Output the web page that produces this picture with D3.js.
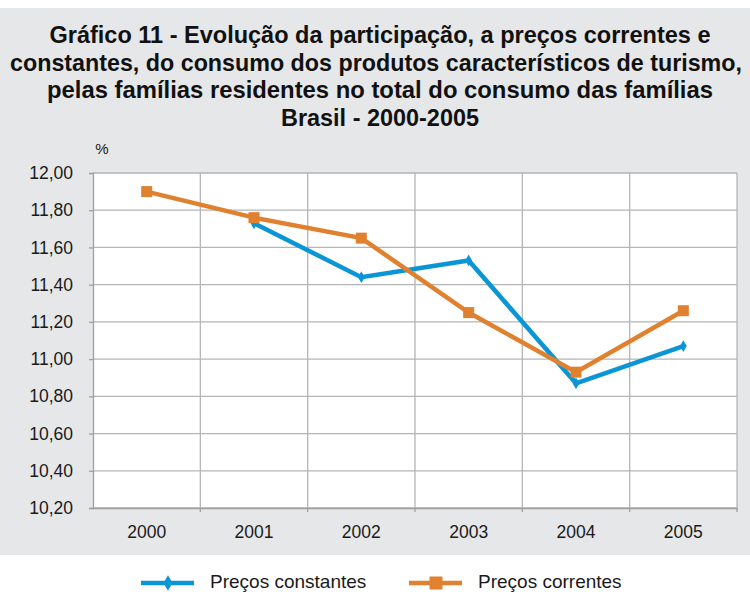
<!DOCTYPE html>
<html><head><meta charset="utf-8">
<script src="https://cdn.jsdelivr.net/npm/d3@7"></script>
<style>body{margin:0;background:#fff}svg{display:block}</style>
</head><body>
<svg id="c" width="750" height="592"></svg>
<script>
const years = ["2000","2001","2002","2003","2004","2005"];
const constantes = [null, 11.73, 11.44, 11.53, 10.87, 11.07];
const correntes = [11.90, 11.76, 11.65, 11.25, 10.93, 11.26];
const yTicks = [10.2,10.4,10.6,10.8,11.0,11.2,11.4,11.6,11.8,12.0];
const titleLines = [
  "Gráfico 11 - Evolução da participação, a preços correntes e",
  "constantes, do consumo dos produtos característicos de turismo,",
  "pelas famílias residentes no total do consumo das famílias",
  "Brasil - 2000-2005"
];
const titleWidths = [661, 732, 666, 198];
const seriesNames = ["Preços constantes","Preços correntes"];

const svg = d3.select("#c");
const blue = "#0a96d6", orange = "#e0812f";
const font = "'Liberation Sans', Arial, sans-serif";

svg.append("rect").attr("x",0).attr("y",8).attr("width",750).attr("height",547).attr("fill","#e6e7e8");

const tl = svg.append("g");
titleLines.forEach((t,i)=>{
  tl.append("text").attr("x",i===1?376:380).attr("y",43+i*27.7).attr("text-anchor","middle")
    .attr("font-family",font).attr("font-weight","bold").attr("font-size",i===1?23.2:24)
    .attr("textLength",titleWidths[i]).attr("lengthAdjust","spacingAndGlyphs")
    .attr("fill","#111").text(t);
});

const L=93, R=737, T=173, B=508;
const x = d3.scaleBand().domain(years).range([L,R]);
const y = d3.scaleLinear().domain([10.2,12.0]).range([B,T]);

svg.append("rect").attr("x",L).attr("y",T).attr("width",R-L).attr("height",B-T).attr("fill","#fff");

// grid
svg.append("g").selectAll("line").data(yTicks).join("line")
  .attr("x1",L).attr("x2",R).attr("y1",d=>y(d)).attr("y2",d=>y(d))
  .attr("stroke","#b5b5b5").attr("stroke-width",1.3);
svg.append("g").selectAll("line").data(years.slice(1)).join("line")
  .attr("x1",d=>x(d)).attr("x2",d=>x(d)).attr("y1",T).attr("y2",B)
  .attr("stroke","#b5b5b5").attr("stroke-width",1.3);
svg.append("line").attr("x1",R).attr("x2",R).attr("y1",T).attr("y2",B).attr("stroke","#b5b5b5").attr("stroke-width",1.3);

const fmt = d => d.toFixed(2).replace(".",",");
const yAxis = svg.append("g").attr("transform",`translate(${L},0)`)
  .call(d3.axisLeft(y).tickValues(yTicks).tickFormat(fmt).tickSize(4).tickPadding(16));
yAxis.select(".domain").attr("stroke","#a0a0a0").attr("stroke-width",1.3);
yAxis.selectAll(".tick line").attr("stroke","#a0a0a0").attr("stroke-width",1.3);
yAxis.selectAll("text").attr("font-family",font).attr("font-size",17.5).attr("fill","#1a1a1a");

const xAxis = svg.append("g").attr("transform",`translate(0,${B})`)
  .call(d3.axisBottom(x).tickSize(0).tickPadding(18));
xAxis.select(".domain").attr("stroke","#a0a0a0").attr("stroke-width",1.3);
xAxis.selectAll("text").attr("font-family",font).attr("font-size",17.5).attr("fill","#1a1a1a");
svg.append("g").selectAll("line").data(years.slice(1).concat(["end"])).join("line")
  .attr("x1",d=>d==="end"?R:x(d)).attr("x2",d=>d==="end"?R:x(d)).attr("y1",B).attr("y2",B+4)
  .attr("stroke","#a0a0a0").attr("stroke-width",1.3);

svg.append("text").attr("x",102).attr("y",154).attr("text-anchor","middle")
  .attr("font-family",font).attr("font-size",15).attr("fill","#1a1a1a").text("%");

const cx = d => x(d)+x.bandwidth()/2;
const line = d3.line().defined(d=>d.v!==null).x(d=>cx(d.k)).y(d=>y(d.v));
const dC = years.map((k,i)=>({k,v:constantes[i]}));
const dR = years.map((k,i)=>({k,v:correntes[i]}));

svg.append("path").datum(dC).attr("d",line).attr("fill","none").attr("stroke",blue).attr("stroke-width",4.5).attr("stroke-linejoin","miter");
svg.append("g").selectAll("path").data(dC.filter(d=>d.v!==null)).join("path")
  .attr("d",d3.symbol(d3.symbolDiamond,40)).attr("transform",d=>`translate(${cx(d.k)},${y(d.v)})`).attr("fill",blue);

svg.append("path").datum(dR).attr("d",line).attr("fill","none").attr("stroke",orange).attr("stroke-width",4.5).attr("stroke-linejoin","miter");
svg.append("g").selectAll("rect").data(dR).join("rect")
  .attr("x",d=>cx(d.k)-5.5).attr("y",d=>y(d.v)-5.5).attr("width",11).attr("height",11).attr("fill",orange);

// legend
const lg = svg.append("g");
const ly = 583;
lg.append("line").attr("x1",141).attr("x2",194).attr("y1",ly).attr("y2",ly).attr("stroke",blue).attr("stroke-width",4.5);
lg.append("path").attr("d",d3.symbol(d3.symbolDiamond,70)).attr("transform",`translate(168,${ly})`).attr("fill",blue);
lg.append("text").attr("x",210).attr("y",588).attr("font-family",font).attr("font-size",19).attr("fill","#1a1a1a").text(seriesNames[0]);
lg.append("line").attr("x1",409).attr("x2",462).attr("y1",ly).attr("y2",ly).attr("stroke",orange).attr("stroke-width",4.5);
lg.append("rect").attr("x",436-6.5).attr("y",ly-6.5).attr("width",13).attr("height",13).attr("fill",orange);
lg.append("text").attr("x",478).attr("y",588).attr("font-family",font).attr("font-size",19).attr("fill","#1a1a1a").text(seriesNames[1]);
</script>
</body></html>
